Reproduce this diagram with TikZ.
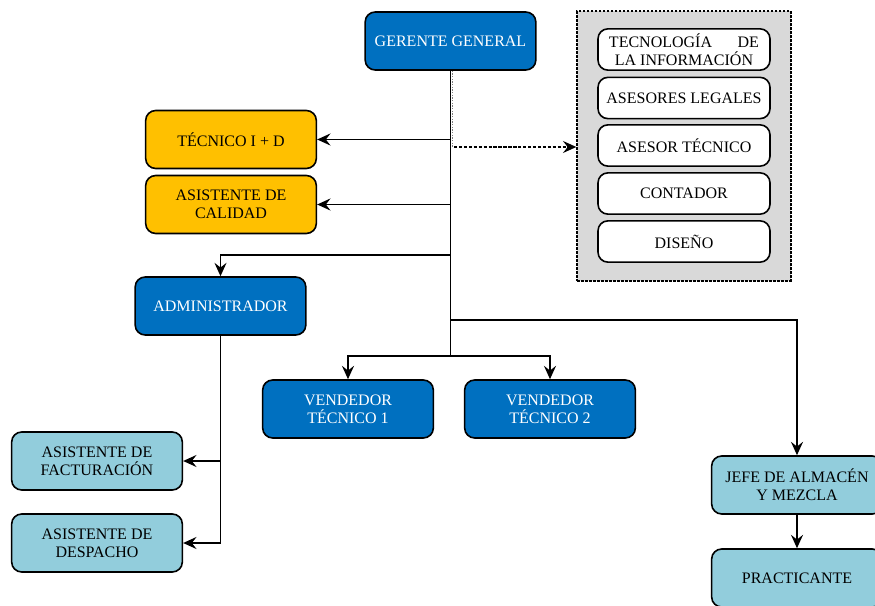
\documentclass[tikz,border=0pt]{standalone}
\usepackage{fontspec}
\setmainfont{Liberation Serif}
\usetikzlibrary{arrows.meta}
\definecolor{azul}{HTML}{0070C0}
\definecolor{ambar}{HTML}{FFC000}
\definecolor{celeste}{HTML}{92CDDC}
\definecolor{gris}{HTML}{D9D9D9}
\tikzset{
  caja/.style={draw, line width=1.2pt, rounded corners=7.5pt, minimum width=128pt,
    minimum height=43.5pt, align=center, inner sep=2pt, font=\fontsize{12}{13.5}\selectfont},
  cajaazul/.style={caja, fill=azul, text=white},
  cajaambar/.style={caja, fill=ambar},
  cajaceleste/.style={caja, fill=celeste},
  asesor/.style={caja, fill=white, minimum width=129pt, minimum height=31pt},
  linea/.style={line width=1.3pt}
}
\begin{document}
\begin{tikzpicture}[x=0.75pt, y=-0.75pt, >={Stealth[length=10pt,width=9pt,inset=3.5pt]}]
  \useasboundingbox (0,0) rectangle (875,606);
  % asesores externos
  \node[draw, line width=1.5pt, densely dashed, dash pattern=on 2pt off 1pt, fill=gris,
    minimum width=160pt, minimum height=202pt] (marco) at (684,146) {};
  \node[asesor] (ti) at (684,49.5) {TECNOLOGÍA\hspace{1.6em}DE\\LA INFORMACIÓN};
  \node[asesor] (leg) at (684,98) {ASESORES LEGALES};
  \node[asesor] (atec) at (684,145.5) {ASESOR TÉCNICO};
  \node[asesor] (cont) at (684,193.5) {CONTADOR};
  \node[asesor] (dis) at (684,241.5) {DISEÑO};
  % puestos
  \node[cajaazul] (gg) at (450.5,41) {GERENTE GENERAL};
  \node[cajaambar] (tec) at (231,139.5) {TÉCNICO I + D};
  \node[cajaambar] (cal) at (231,204.5) {ASISTENTE DE\\CALIDAD};
  \node[cajaazul] (adm) at (220.5,306) {ADMINISTRADOR};
  \node[cajaazul] (v1) at (348,409) {VENDEDOR\\TÉCNICO 1};
  \node[cajaazul] (v2) at (550,409) {VENDEDOR\\TÉCNICO 2};
  \node[cajaceleste] (fact) at (97,461) {ASISTENTE DE\\FACTURACIÓN};
  \node[cajaceleste] (desp) at (97,543) {ASISTENTE DE\\DESPACHO};
  \node[cajaceleste] (jefe) at (797,485) {JEFE DE ALMACÉN\\Y MEZCLA};
  \node[cajaceleste] (prac) at (797,578) {PRACTICANTE};
  % conectores
  \coordinate (ase) at (454,147);
  \coordinate (r1) at (450.5,255);
  \coordinate (r2) at (450.5,320);
  \coordinate (r3) at (450.5,356);
  \draw[dash pattern=on 1pt off 1pt, gray, line width=0.8pt] ([xshift=1.6pt]gg.south) -- ([xshift=1.6pt]gg.south |- ase);
  \draw[dash pattern=on 2.5pt off 1.2pt, linea, ->] (ase) -- (marco.west |- ase);
  \draw[linea] (gg.south) -- (r3);
  \draw[linea, ->] (gg.south |- tec.east) -- (tec.east);
  \draw[linea, ->] (gg.south |- cal.east) -- (cal.east);
  \draw[linea, ->] (r1) -| (adm.north);
  \draw[linea, ->] (r2) -| (jefe.north);
  \draw[linea, ->] (r3) -| (v1.north);
  \draw[linea, ->] (r3) -| (v2.north);
  \draw[linea, ->] (jefe) -- (prac);
  \draw[linea] (adm.south) -- (adm.south |- desp.east);
  \draw[linea, ->] (adm.south |- fact.east) -- (fact.east);
  \draw[linea, ->] (adm.south |- desp.east) -- (desp.east);
\end{tikzpicture}
\end{document}
